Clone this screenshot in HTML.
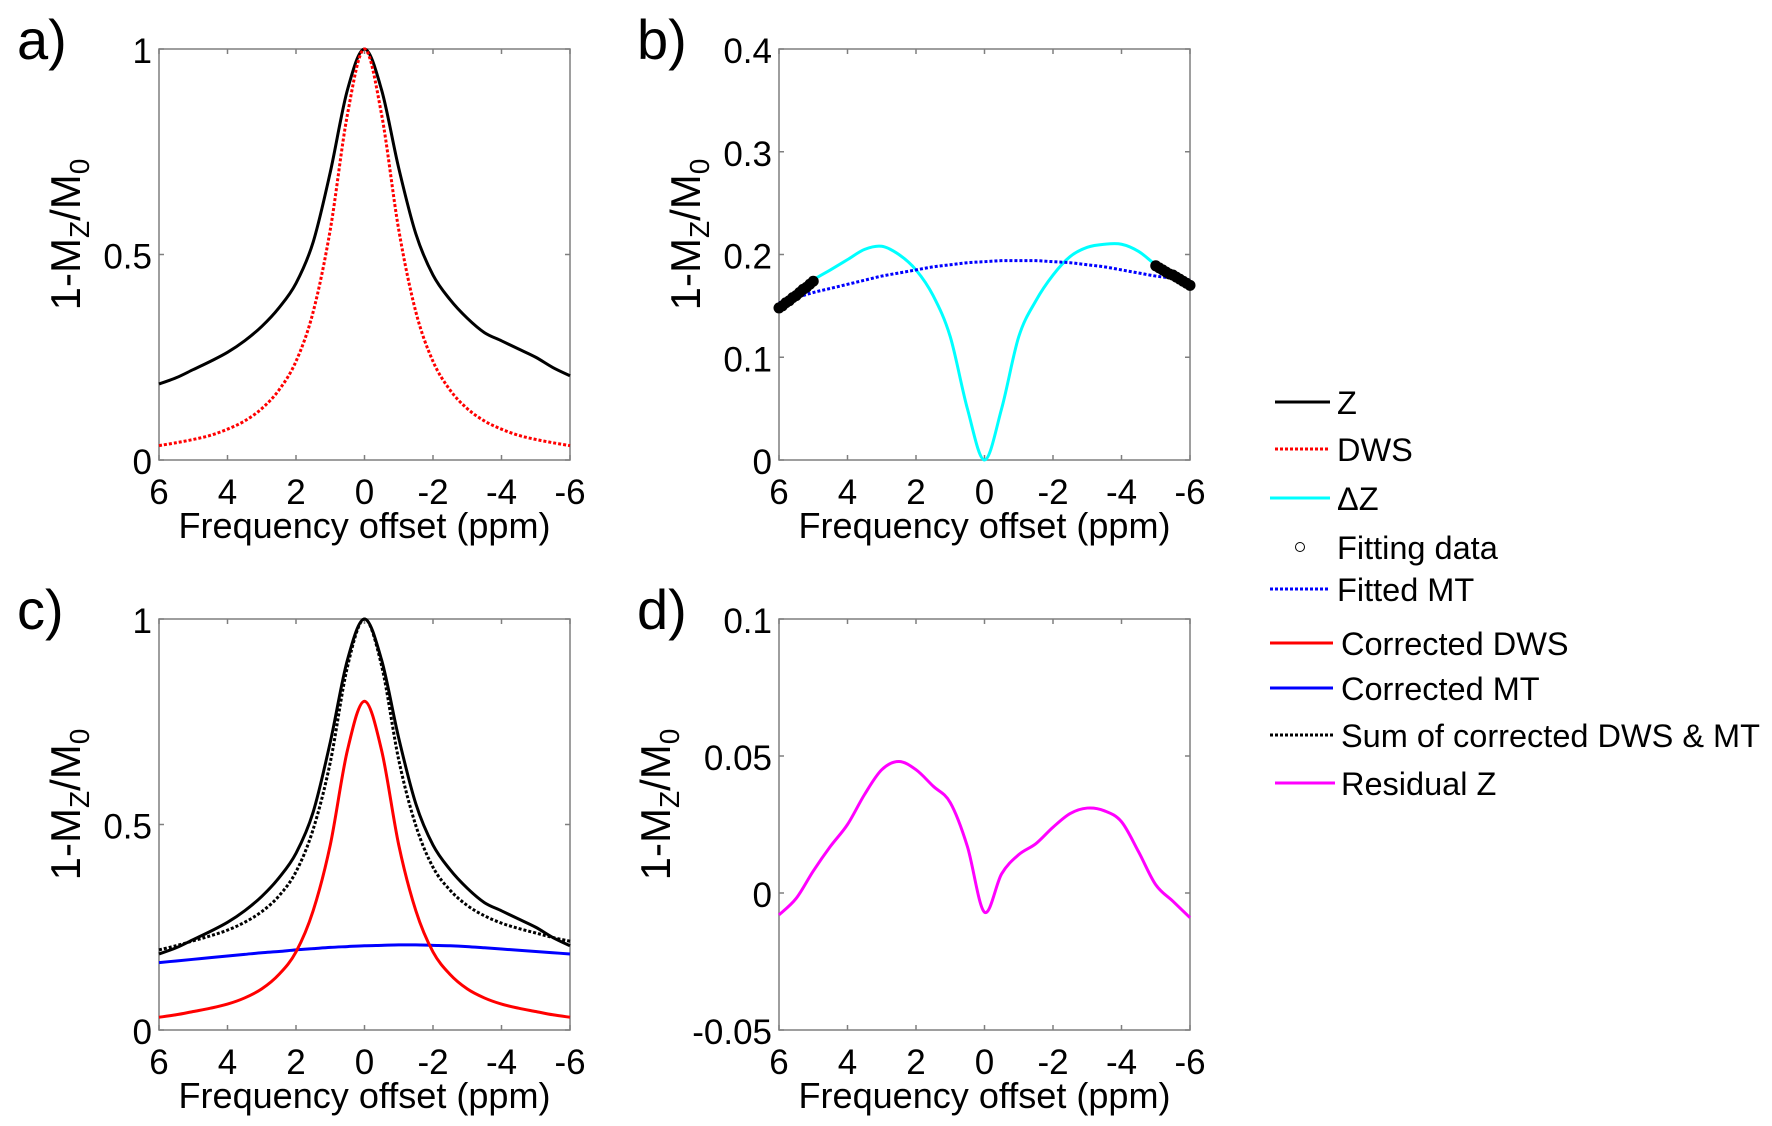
<!DOCTYPE html>
<html><head><meta charset="utf-8"><style>
html,body{margin:0;padding:0;background:#fff;}
svg{display:block;font-family:"Liberation Sans",sans-serif;}
</style></head><body>
<svg id="fig" width="1772" height="1126" viewBox="0 0 1772 1126" xmlns="http://www.w3.org/2000/svg"></svg>
<script>
// ---- data ----
const xs = [6,5.5,5,4.5,4,3.5,3,2.5,2,1.5,1,0.5,0,-0.5,-1,-1.5,-2,-2.5,-3,-3.5,-4,-4.5,-5,-5.5,-6];
const zVals = [0.185,0.20,0.22,0.24,0.262,0.29,0.325,0.37,0.43,0.53,0.70,0.90,1.0,0.90,0.71,0.55,0.45,0.39,0.345,0.31,0.29,0.27,0.25,0.225,0.205];
const dwsVals = [0.035,0.042,0.05,0.06,0.075,0.095,0.125,0.17,0.24,0.36,0.56,0.84,1.0,0.84,0.56,0.36,0.24,0.17,0.125,0.095,0.075,0.06,0.05,0.042,0.035];
const dzVals = [0.148,0.16,0.175,0.185,0.195,0.205,0.208,0.20,0.185,0.16,0.12,0.05,0.0,0.05,0.12,0.155,0.18,0.198,0.207,0.21,0.21,0.203,0.19,0.18,0.17];
const fitMtVals = [0.153,0.158,0.163,0.167,0.171,0.175,0.179,0.182,0.185,0.188,0.190,0.192,0.193,0.194,0.194,0.194,0.193,0.192,0.190,0.188,0.185,0.182,0.179,0.177,0.175];
const fitXs = [6,5.9,5.8,5.7,5.6,5.5,5.4,5.3,5.2,5.1,5.0,-5.0,-5.1,-5.2,-5.3,-5.4,-5.5,-5.6,-5.7,-5.8,-5.9,-6];
const fitYs = [0.148,0.150,0.153,0.155,0.158,0.160,0.163,0.166,0.168,0.171,0.174,0.189,0.187,0.185,0.183,0.181,0.180,0.178,0.176,0.174,0.172,0.170];
const corrDwsVals = [0.031,0.037,0.045,0.053,0.063,0.078,0.10,0.135,0.19,0.29,0.45,0.68,0.80,0.68,0.45,0.29,0.19,0.135,0.10,0.078,0.063,0.053,0.045,0.037,0.031];
const corrMtVals = [0.164,0.168,0.172,0.176,0.180,0.184,0.188,0.191,0.195,0.198,0.201,0.203,0.205,0.206,0.207,0.207,0.206,0.205,0.203,0.200,0.197,0.194,0.191,0.188,0.185];
const sumVals = [0.195,0.205,0.217,0.229,0.243,0.262,0.288,0.326,0.385,0.488,0.651,0.883,1.0,0.886,0.657,0.497,0.396,0.34,0.303,0.278,0.26,0.247,0.236,0.225,0.216];
const residVals = [-0.008,-0.002,0.008,0.017,0.025,0.036,0.045,0.048,0.045,0.039,0.033,0.017,-0.007,0.007,0.014,0.018,0.024,0.029,0.031,0.030,0.026,0.015,0.003,-0.003,-0.009];
const xTicks = [6,4,2,0,-2,-4,-6];
const xTickLabels = ["6","4","2","0","-2","-4","-6"];
const yTicksA = [0,0.5,1], yTickLabelsA = ["0","0.5","1"];
const yTicksB = [0,0.1,0.2,0.3,0.4], yTickLabelsB = ["0","0.1","0.2","0.3","0.4"];
const yTicksD = [-0.05,0,0.05,0.1], yTickLabelsD = ["-0.05","0","0.05","0.1"];

const NS = "http://www.w3.org/2000/svg";
const svg = document.getElementById('fig');
function mk(tag, attrs, parent){ const e=document.createElementNS(NS,tag); for(const k in attrs) e.setAttribute(k,attrs[k]); (parent||svg).appendChild(e); return e; }

function smoothPath(pts){
  let d = "M"+pts[0][0].toFixed(2)+","+pts[0][1].toFixed(2);
  for(let i=0;i<pts.length-1;i++){
    const p0=pts[Math.max(0,i-1)], p1=pts[i], p2=pts[i+1], p3=pts[Math.min(pts.length-1,i+2)];
    const c1=[p1[0]+(p2[0]-p0[0])/6, p1[1]+(p2[1]-p0[1])/6];
    const c2=[p2[0]-(p3[0]-p1[0])/6, p2[1]-(p3[1]-p1[1])/6];
    d += " C"+c1[0].toFixed(2)+","+c1[1].toFixed(2)+" "+c2[0].toFixed(2)+","+c2[1].toFixed(2)+" "+p2[0].toFixed(2)+","+p2[1].toFixed(2);
  }
  return d;
}

function makeAxes(name, L, T, R, B, ymin, ymax, yt, ytl, letter, ylabX){
  const g = mk('g',{});
  
  
  const sx = v => L + (6 - v) / 12 * (R - L);
  const sy = v => B - (v - ymin) / (ymax - ymin) * (B - T);
  const box = mk('rect',{x:L,y:T,width:R-L,height:B-T,fill:'none',stroke:'#7f7f7f','stroke-width':1.5},g);
  
  
  xTicks.forEach((v,i)=>{
    const x=sx(v);
    mk('line',{x1:x,y1:B,x2:x,y2:B-5,stroke:'#7f7f7f','stroke-width':1.5},g);
    mk('line',{x1:x,y1:T,x2:x,y2:T+5,stroke:'#7f7f7f','stroke-width':1.5},g);
    const t=mk('text',{x:x,y:B+44,'font-size':35,'text-anchor':'middle',fill:'#000'},g);
    t.textContent = xTickLabels[i];
    
    
  });
  yt.forEach((v,i)=>{
    const y=sy(v);
    mk('line',{x1:L,y1:y,x2:L+5,y2:y,stroke:'#7f7f7f','stroke-width':1.5},g);
    mk('line',{x1:R,y1:y,x2:R-5,y2:y,stroke:'#7f7f7f','stroke-width':1.5},g);
    const t=mk('text',{x:L-7,y:y+14,'font-size':35,'text-anchor':'end',fill:'#000'},g);
    t.textContent = ytl[i];
    
    
  });
  const xl=mk('text',{x:(L+R)/2,y:B+78,'font-size':36,'text-anchor':'middle',textLength:372,lengthAdjust:'spacingAndGlyphs',fill:'#000'},g);
  xl.textContent='Frequency offset (ppm)';
  
  
  const yl=mk('text',{x:0,y:0,'font-size':42,'text-anchor':'middle',fill:'#000',transform:'translate('+ylabX+','+((T+B)/2-20)+') rotate(-90)'},g);
  yl.innerHTML='1-M<tspan font-size="28" dy="9">Z</tspan><tspan dy="-9">/M</tspan><tspan font-size="28" dy="9">0</tspan>';
  
  
  const pl=mk('text',{x:L-142,y:T+10,'font-size':56,fill:'#000'},g);
  pl.textContent=letter;
  
  
  return {g,sx,sy};
}

function line(ax, xv, yv, color, w, dash, name){
  const pts = xv.map((x,i)=>[ax.sx(x), ax.sy(yv[i])]);
  const p = mk('path',{d:smoothPath(pts),fill:'none',stroke:color,'stroke-width':w,'stroke-linejoin':'round'},ax.g);
  if(dash) p.setAttribute('stroke-dasharray', dash);
  
  
  return p;
}

// Panel a
const A = makeAxes('panel-a',159,49,570,460,0,1,yTicksA,yTickLabelsA,'a)',80);
line(A, xs, zVals, '#000', 3, null, 'z-line');
line(A, xs, dwsVals, '#ff0000', 3, '3,2', 'dws-line');

// Panel b
const Bx = makeAxes('panel-b',779,49,1190,460,0,0.4,yTicksB,yTickLabelsB,'b)',700);
line(Bx, xs, dzVals, '#00ffff', 3, null, 'delta-z-line');
line(Bx, xs, fitMtVals, '#0000ff', 3, '3,2', 'fitted-mt-line');
fitXs.forEach((x,i)=>{
  const c=mk('circle',{cx:Bx.sx(x),cy:Bx.sy(fitYs[i]),r:5.5,fill:'#000'},Bx.g);
  
  
});

// Panel c
const C = makeAxes('panel-c',159,619,570,1030,0,1,yTicksA,yTickLabelsA,'c)',80);
line(C, xs, corrMtVals, '#0000ff', 3, null, 'corrected-mt-line');
line(C, xs, corrDwsVals, '#ff0000', 3, null, 'corrected-dws-line');
line(C, xs, zVals, '#000', 3, null, 'z-line');
line(C, xs, sumVals, '#000', 3, '3,2', 'sum-line');

// Panel d
const D = makeAxes('panel-d',779,619,1190,1030,-0.05,0.1,yTicksD,yTickLabelsD,'d)',670);
line(D, xs, residVals, '#ff00ff', 3, null, 'residual-z-line');

// Legend
const leg = mk('g',{});


const legItems = [
  ['Z',402,'#000',null,1275,1330,1337,'line'],
  ['DWS',449,'#ff0000','3,2',1275,1330,1337,'line'],
  ['\u0394Z',498,'#00ffff',null,1270,1330,1337,'line'],
  ['Fitting data',547,'#000',null,1300,1300,1337,'circle'],
  ['Fitted MT',589,'#0000ff','3,2',1270,1330,1337,'line'],
  ['Corrected DWS',643,'#ff0000',null,1270,1333,1341,'line'],
  ['Corrected MT',688,'#0000ff',null,1270,1333,1341,'line'],
  ['Sum of corrected DWS & MT',735,'#000','3,2',1270,1333,1341,'line'],
  ['Residual Z',783,'#ff00ff',null,1275,1335,1341,'line']
];
legItems.forEach(it=>{
  const g=mk('g',{},leg);
  
  
  if(it[7]==='line'){
    const l=mk('line',{x1:it[4],y1:it[1],x2:it[5],y2:it[1],stroke:it[2],'stroke-width':3},g);
    if(it[3]) l.setAttribute('stroke-dasharray',it[3]);
  } else {
    mk('circle',{cx:it[4],cy:it[1],r:4.5,fill:'none',stroke:'#000','stroke-width':1},g);
  }
  const t=mk('text',{x:it[6],y:it[1]+12,'font-size':32.5,fill:'#000'},g);
  t.textContent=it[0];
});
</script>
</body></html>
